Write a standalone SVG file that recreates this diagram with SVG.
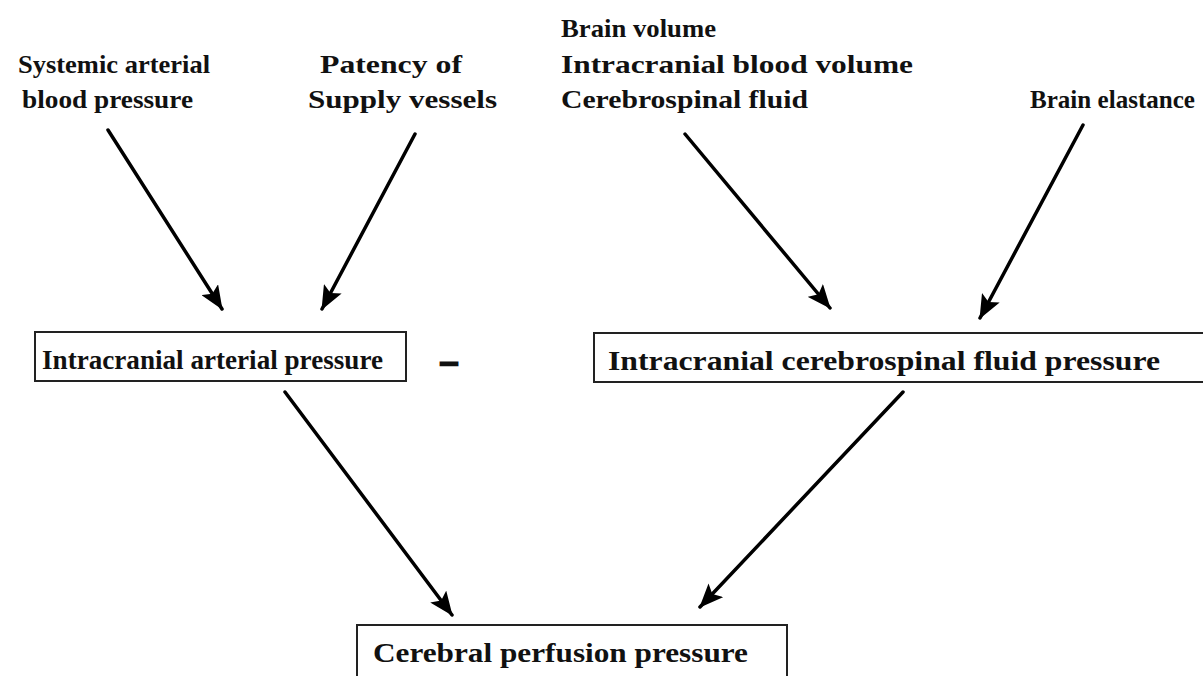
<svg xmlns="http://www.w3.org/2000/svg" width="1203" height="676" viewBox="0 0 1203 676">
<style>
.lbl{font-family:"Liberation Serif","Times New Roman",serif;font-weight:bold;font-size:25px;fill:#111}
.box{fill:#fff;stroke:#222;stroke-width:2}
.btxt{font-family:"Liberation Serif","Times New Roman",serif;font-weight:bold;font-size:28px;fill:#111}
.arr{stroke:#000;stroke-width:3.5;fill:none;stroke-linecap:round;marker-end:url(#ah)}
</style>
<defs>
<marker id="ah" viewBox="0 0 24 20" refX="23" refY="10" markerWidth="24" markerHeight="20" markerUnits="userSpaceOnUse" orient="auto">
<path d="M0,0 L24,10 L0,20 L5,10 z" fill="#000"/>
</marker>
</defs>
<rect width="1203" height="676" fill="#fff"/>
<g id="systemic">
<text class="lbl" x="18" y="73" textLength="192" lengthAdjust="spacingAndGlyphs">Systemic arterial</text>
<text class="lbl" x="22" y="108" textLength="171" lengthAdjust="spacingAndGlyphs">blood pressure</text>
</g>
<g id="patency">
<text class="lbl" x="320" y="73" textLength="142" lengthAdjust="spacingAndGlyphs">Patency of</text>
<text class="lbl" x="308" y="108" textLength="189" lengthAdjust="spacingAndGlyphs">Supply vessels</text>
</g>
<g id="volumes">
<text class="lbl" x="561" y="37" textLength="155" lengthAdjust="spacingAndGlyphs">Brain volume</text>
<text class="lbl" x="561" y="73" textLength="352" lengthAdjust="spacingAndGlyphs">Intracranial blood volume</text>
<text class="lbl" x="561" y="108" textLength="247" lengthAdjust="spacingAndGlyphs">Cerebrospinal fluid</text>
</g>
<g id="elastance">
<text class="lbl" x="1030" y="108" textLength="165" lengthAdjust="spacingAndGlyphs">Brain elastance</text>
</g>
<g id="iap">
<rect class="box" x="35" y="332" width="371" height="49"/>
<text class="btxt" x="42" y="369" textLength="341" lengthAdjust="spacingAndGlyphs">Intracranial arterial pressure</text>
</g>
<g id="minus">
<text class="btxt" x="440" y="370" textLength="18" lengthAdjust="spacingAndGlyphs" stroke="#111" stroke-width="2.5">-</text>
</g>
<g id="icsfp">
<rect class="box" x="594" y="333" width="620" height="49"/>
<text class="btxt" x="608" y="370" textLength="552" lengthAdjust="spacingAndGlyphs">Intracranial cerebrospinal fluid pressure</text>
</g>
<g id="cpp">
<rect class="box" x="357" y="625" width="430" height="70"/>
<text class="btxt" x="373" y="662" textLength="375" lengthAdjust="spacingAndGlyphs">Cerebral perfusion pressure</text>
</g>
<g id="connectors">
<line class="arr" x1="108" y1="130" x2="222" y2="309"/>
<line class="arr" x1="415" y1="134" x2="322" y2="309"/>
<line class="arr" x1="685" y1="134" x2="830" y2="308"/>
<line class="arr" x1="1083" y1="125" x2="980" y2="318"/>
<line class="arr" x1="285" y1="392" x2="452" y2="615"/>
<line class="arr" x1="903" y1="392" x2="700" y2="607"/>
</g>
</svg>
